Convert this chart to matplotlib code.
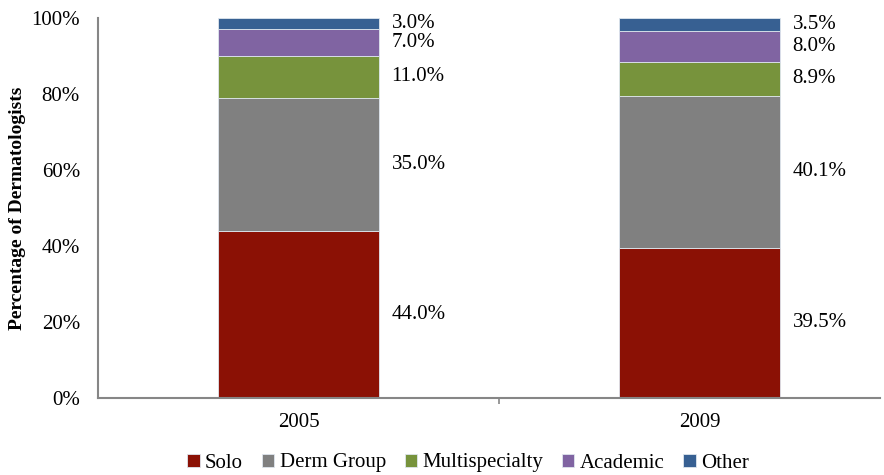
import numpy as np
import matplotlib
matplotlib.use("Agg")
import matplotlib.pyplot as plt

plt.rcParams["font.family"] = ["Liberation Serif", "DejaVu Serif"]

# practice setting shares (%) by survey year
years = ["2005", "2009"]
solo = [44.0, 39.5]
derm_group = [35.0, 40.1]
multispecialty = [11.0, 8.9]
academic = [7.0, 8.0]
other = [3.0, 3.5]

series = [
    ("Solo", solo, "#8B1105"),
    ("Derm Group", derm_group, "#808080"),
    ("Multispecialty", multispecialty, "#77933C"),
    ("Academic", academic, "#8064A2"),
    ("Other", other, "#376092"),
]

fig = plt.figure(figsize=(8.84, 4.75), dpi=100)
ax = fig.add_axes([98 / 884, 77 / 475, 782 / 884, 380 / 475])

x = np.arange(len(years))
bottom = np.zeros(len(years))
for name, vals, color in series:
    vals = np.array(vals)
    ax.bar(x, vals, width=0.4, bottom=bottom, color=color, label=name,
           edgecolor="#dfe6ee", linewidth=0.6)
    for xi, b, v in zip(x, bottom, vals):
        ax.text(xi + 0.232, b + v / 2, f"{v:.1f}%", va="center", ha="left",
                fontsize=15)
    bottom += vals

ax.set_xlim(-0.5, 1.45)
ax.set_ylim(0, 100)
ax.set_xticks(x)
ax.set_xticklabels(years, fontsize=15)
ax.set_xticks([0.5], minor=True)
ax.tick_params(axis="x", which="major", length=0, pad=11)
ax.tick_params(axis="x", which="minor", length=4, width=1.2, color="#868686",
               direction="out")
ax.set_yticks(range(0, 101, 20))
ax.set_yticklabels([f"{v}%" for v in range(0, 101, 20)], fontsize=15)
ax.tick_params(axis="y", length=0, pad=13)

for side in ["top", "right"]:
    ax.spines[side].set_visible(False)
for side in ["left", "bottom"]:
    ax.spines[side].set_color("#868686")
    ax.spines[side].set_linewidth(1.5)

ax.set_ylabel("Percentage of Dermatologists", fontsize=14, fontweight="bold")
ax.yaxis.set_label_coords(-0.092, 0.5)

ax.legend(loc="center", bbox_to_anchor=(468 / 884, 12 / 475),
          bbox_transform=fig.transFigure, ncol=5, frameon=False,
          fontsize=15, handlelength=0.6, handleheight=0.6,
          handletextpad=0.25, columnspacing=0.9)

fig.savefig("out.png", dpi=100)
